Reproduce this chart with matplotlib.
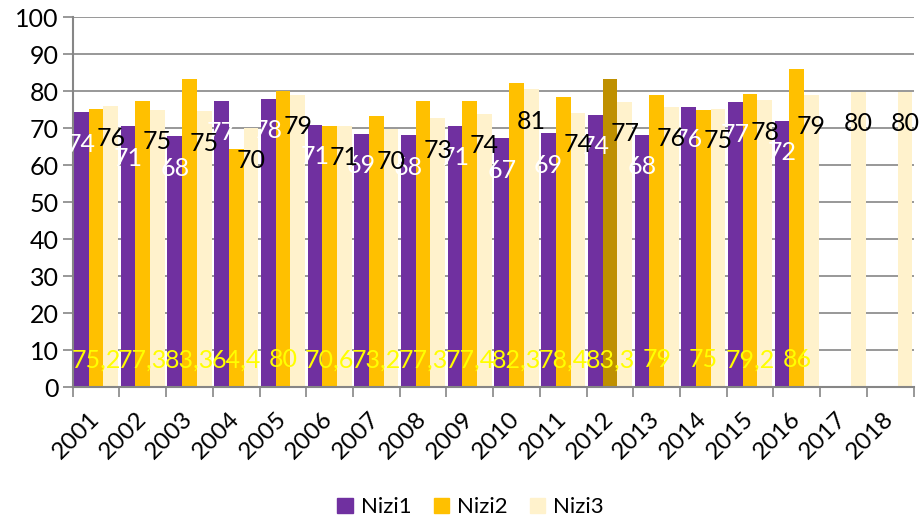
import numpy as np
import matplotlib.pyplot as plt
from matplotlib.patches import Patch

years = [str(y) for y in range(2001, 2019)]
nizi1 = [74.3, 70.6, 67.8, 77.4, 78.0, 70.9, 68.6, 68.1, 70.7, 67.3,
         68.7, 73.7, 68.2, 75.7, 77.0, 72.0, np.nan, np.nan]
nizi2 = [75.2, 77.3, 83.3, 64.4, 80.0, 70.6, 73.2, 77.3, 77.4, 82.3,
         78.4, 83.3, 79.0, 75.0, 79.2, 86.0, np.nan, np.nan]
nizi3 = [76.0, 75.0, 74.6, 70.0, 79.0, 70.7, 69.7, 72.7, 74.0, 80.6,
         74.2, 77.2, 75.8, 75.3, 77.6, 79.1, 79.9, 79.9]
highlight_year = '2012'

plt.rcParams['font.family'] = ['Lato', 'DejaVu Sans']

c1, c2, c3, c2_dark = '#7030A0', '#FFC000', '#FFF2CC', '#BF9000'
grey = '#868686'

fig = plt.figure(figsize=(9.21, 5.19), dpi=100)
ax = fig.add_axes([0.0789, 0.2534, 0.9131, 0.7133])

x = np.arange(len(years))
width = 0.315

colors2 = [c2_dark if y == highlight_year else c2 for y in years]
b1 = ax.bar(x - width, nizi1, width, color=c1, zorder=2)
b2 = ax.bar(x, nizi2, width, color=colors2, zorder=2)
b3 = ax.bar(x + width, nizi3, width, color=c3, zorder=2)

lab_size = 18
for xi, v in zip(x, nizi1):
    if not np.isnan(v):
        ax.annotate('%.0f' % v, (xi - width, v), xytext=(0, -23), textcoords='offset points',
                    ha='center', va='center', color='white', fontsize=lab_size, zorder=5)
for xi, v in zip(x, nizi3):
    if not np.isnan(v):
        ax.annotate('%.0f' % v, (xi + width, v), xytext=(0, -23), textcoords='offset points',
                    ha='center', va='center', color='black', fontsize=lab_size, zorder=5)
for xi, v in zip(x, nizi2):
    if not np.isnan(v):
        s = ('%g' % v).replace('.', ',')
        ax.annotate(s, (xi, 0), xytext=(0, 20), textcoords='offset points',
                    ha='center', va='center', color='#FFFF00', fontsize=lab_size, zorder=5)

ax.set_xlim(-0.5, len(years) - 0.5)
ax.set_ylim(0, 100)
ax.set_yticks(range(0, 101, 10))
ax.yaxis.grid(True, color=grey, lw=1.2, zorder=0)
ax.set_axisbelow(True)

ax.set_xticks(x)
ax.set_xticklabels(years, rotation=45, ha='right', va='center', rotation_mode='anchor')
ax.set_xticks(np.arange(-0.5, len(years)), minor=True)
ax.tick_params(axis='x', which='major', length=0, pad=20, labelsize=17.5)
ax.tick_params(axis='x', which='minor', length=7, width=1.2, color=grey, direction='out')
ax.tick_params(axis='y', length=7, width=1.2, color=grey, labelsize=18, pad=3)

for s in ['top', 'right']:
    ax.spines[s].set_visible(False)
for s in ['left', 'bottom']:
    ax.spines[s].set_color(grey)
    ax.spines[s].set_linewidth(1.5)

handles = [Patch(color=c1, label='Nizi1'), Patch(color=c2, label='Nizi2'), Patch(color=c3, label='Nizi3')]
fig.legend(handles=handles, loc='center', bbox_to_anchor=(0.511, 0.023), ncol=3, frameon=False,
           fontsize=16, handlelength=0.7, handleheight=0.7, handletextpad=0.35, columnspacing=1.0)

fig.savefig('out.png', dpi=100)
